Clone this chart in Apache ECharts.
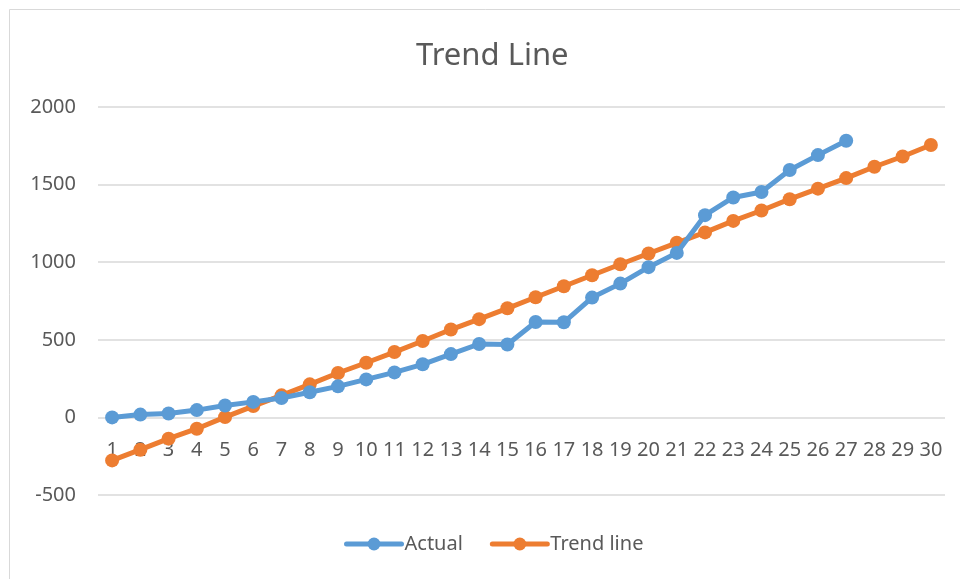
<!DOCTYPE html>
<html>
<head>
<meta charset="utf-8">
<script src="https://cdn.jsdelivr.net/npm/echarts@6/dist/echarts.min.js"></script>
<style>
html,body{margin:0;padding:0;background:#fff;}
#chart{width:960px;height:579px;}
</style>
</head>
<body>
<div id="chart"></div>
<script>
const categories = ['1','2','3','4','5','6','7','8','9','10','11','12','13','14','15','16','17','18','19','20','21','22','23','24','25','26','27','28','29','30'];
const actual = [0, 18, 25, 47, 77, 100, 125, 162, 200, 245, 290, 342, 408, 473, 470, 615, 613, 772, 862, 968, 1060, 1303, 1417, 1452, 1594, 1690, 1783];
const trendLine = [-277, -208, -137, -73, 2, 73, 142, 213, 286, 352, 421, 492, 566, 633, 703, 774, 845, 916, 987, 1056, 1125, 1192, 1266, 1333, 1406, 1474, 1542, 1615, 1681, 1755];
const yTicks = { min: -500, max: 2000, interval: 500 };

const FONT = '"Noto Sans", "Open Sans", sans-serif';
const BLUE = '#5B9BD5', ORANGE = '#ED7D31';
const chart = echarts.init(document.getElementById('chart'), null, { renderer: 'canvas' });
chart.setOption({
  backgroundColor: '#ffffff',
  animation: false,
  graphic: [{
    type: 'rect',
    shape: { x: 9.5, y: 9.5, width: 1000, height: 1000 },
    style: { fill: 'none', stroke: '#D9D9D9', lineWidth: 1 },
    silent: true
  }],
  title: {
    text: 'Trend Line',
    left: 411,
    top: 36,
    textStyle: { fontFamily: FONT, fontSize: 31, fontWeight: 'normal', color: '#595959' }
  },
  legend: {
    bottom: 20,
    left: 339,
    itemWidth: 55,
    itemHeight: 16,
    itemGap: 27,
    textStyle: { fontFamily: FONT, fontSize: 20, color: '#595959', padding: [0, 0, 0, -2] },
    data: [
      { name: 'Actual', lineStyle: { width: 5, color: BLUE }, itemStyle: { color: BLUE } },
      { name: 'Trend line', lineStyle: { width: 5, color: ORANGE }, itemStyle: { color: ORANGE } }
    ]
  },
  grid: { left: 98, right: 15, top: 107, bottom: 84, containLabel: false },
  xAxis: {
    type: 'category',
    data: categories,
    boundaryGap: true,
    offset: -77.5,
    axisLine: { show: false, onZero: false },
    axisTick: { show: false },
    axisLabel: { interval: 0, margin: 23, fontFamily: FONT, fontSize: 20, color: '#595959' },
    splitLine: { show: false }
  },
  yAxis: {
    type: 'value',
    min: yTicks.min,
    max: yTicks.max,
    interval: yTicks.interval,
    axisLine: { show: false },
    axisTick: { show: false },
    axisLabel: { margin: 22, fontFamily: FONT, fontSize: 20, color: '#595959', formatter: v => String(v) },
    splitLine: { lineStyle: { color: '#D9D9D9', width: 1.5 } }
  },
  series: [
    {
      name: 'Actual',
      type: 'line',
      data: actual,
      symbol: 'circle',
      symbolSize: 14,
      lineStyle: { color: BLUE, width: 5, cap: 'round', join: 'round' },
      itemStyle: { color: BLUE },
      z: 3
    },
    {
      name: 'Trend line',
      type: 'line',
      data: trendLine,
      symbol: 'circle',
      symbolSize: 14,
      lineStyle: { color: ORANGE, width: 5, cap: 'round', join: 'round' },
      itemStyle: { color: ORANGE },
      z: 2
    }
  ]
});
</script>
</body>
</html>
